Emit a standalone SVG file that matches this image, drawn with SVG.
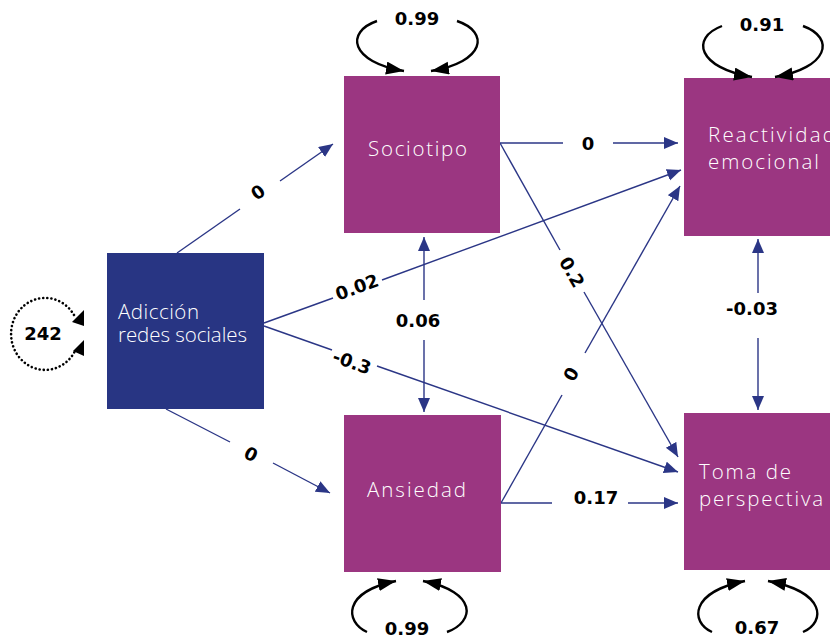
<svg xmlns="http://www.w3.org/2000/svg" width="830" height="639" viewBox="0 0 830 639">
<defs>
<marker id="ab" markerUnits="userSpaceOnUse" markerWidth="16" markerHeight="14" refX="14" refY="6" orient="auto-start-reverse"><path d="M0,0 L14,6 L0,12 z" fill="#2b3686"/></marker>
<marker id="ak" markerUnits="userSpaceOnUse" markerWidth="20" markerHeight="14" refX="18" refY="6.5" orient="auto"><path d="M0,0 L18,6.5 L0,13 z" fill="#000"/></marker>
</defs>
<style>
.n{fill:#9b3681}
.nb{fill:#283583}
.t{font-family:"Open Sans","DejaVu Sans",sans-serif;font-weight:300;font-size:20.5px;fill:#fff}
.e{fill:none;stroke:#2b3686;stroke-width:1.4}
.lp{fill:none;stroke:#000;stroke-width:2.4}
.l{font-family:"DejaVu Sans",sans-serif;font-weight:700;font-size:18px;fill:#000;text-anchor:middle}
</style>
<rect width="830" height="639" fill="#fff"/>
<g id="connectors">
<path class="e" d="M177,253 L240,209"/><path class="e" d="M280,181 L333,144" marker-end="url(#ab)"/>
<path class="e" d="M166,409 L230,442"/><path class="e" d="M273,463 L330,493" marker-end="url(#ab)"/>
<path class="e" d="M264,323 L333,298"/><path class="e" d="M382,280 L681,170" marker-end="url(#ab)"/>
<path class="e" d="M264,326 L332,350"/><path class="e" d="M377,366 L678,472" marker-end="url(#ab)"/>
<path class="e" d="M424,300 L424,237" marker-end="url(#ab)"/><path class="e" d="M424,340 L424,412" marker-end="url(#ab)"/>
<path class="e" d="M500,143 L563,143"/><path class="e" d="M613,143 L678,143" marker-end="url(#ab)"/>
<path class="e" d="M500,143 L560,250"/><path class="e" d="M584,292 L678,457" marker-end="url(#ab)"/>
<path class="e" d="M501,503 L562,395"/><path class="e" d="M585,353 L680,186" marker-end="url(#ab)"/>
<path class="e" d="M501,503 L552,503"/><path class="e" d="M628,503 L678,503" marker-end="url(#ab)"/>
<path class="e" d="M758,293 L758,239" marker-end="url(#ab)"/><path class="e" d="M758,338 L758,410" marker-end="url(#ab)"/>
</g>
<g id="edge-labels">
<text class="l" transform="translate(258,192) rotate(-35)" y="6.5">0</text>
<text class="l" transform="translate(251,454) rotate(27)" y="6.5">0</text>
<text class="l" transform="translate(357,287) rotate(-20)" y="6.5">0.02</text>
<text class="l" transform="translate(352,362) rotate(20)" y="6.5">-0.3</text>
<text class="l" x="418" y="327">0.06</text>
<text class="l" x="588" y="150">0</text>
<text class="l" transform="translate(572,272) rotate(60)" y="6.5">0.2</text>
<text class="l" transform="translate(571,374) rotate(-60)" y="6.5">0</text>
<text class="l" x="596" y="504">0.17</text>
<text class="l" x="752" y="315">-0.03</text>
</g>
<g id="adiccion">
<rect class="nb" x="107" y="253" width="157" height="156"/>
<text class="t" x="118" y="319" textLength="81">Adicción</text>
<text class="t" x="118" y="342" textLength="129">redes sociales</text>
<path d="M74,315 A34,36 0 1 0 75,351" fill="none" stroke="#000" stroke-width="2.6" stroke-dasharray="0.1 4" stroke-linecap="round"/>
<polygon points="72,322 84,310 84,326" fill="#000"/>
<polygon points="73,351 84,340 84,356" fill="#000"/>
<text class="l" x="43" y="340">242</text>
</g>
<g id="sociotipo">
<rect class="n" x="344" y="76" width="156" height="157"/>
<text class="t" x="368" y="156" textLength="99">Sociotipo</text>
<path class="lp" d="M377,21 C345,32 350,62 404,71" marker-end="url(#ak)"/>
<path class="lp" d="M457,21 C490,32 485,62 431,71" marker-end="url(#ak)"/>
<text class="l" x="417" y="25">0.99</text>
</g>
<g id="ansiedad">
<rect class="n" x="344" y="415" width="157" height="157"/>
<text class="t" x="367" y="497" textLength="99">Ansiedad</text>
<path class="lp" d="M367,632 C345,622 342,592 396,581" marker-end="url(#ak)"/>
<path class="lp" d="M447,632 C475,622 478,592 423,581" marker-end="url(#ak)"/>
<text class="l" x="407" y="635">0.99</text>
</g>
<g id="reactividad">
<rect class="n" x="684" y="78" width="150" height="158"/>
<text class="t" x="708" y="142" textLength="127">Reactividad</text>
<text class="t" x="708" y="169" textLength="111">emocional</text>
<path class="lp" d="M722,26 C690,38 698,68 752,77" marker-end="url(#ak)"/>
<path class="lp" d="M803,26 C836,38 828,68 775,77" marker-end="url(#ak)"/>
<text class="l" x="762" y="31">0.91</text>
</g>
<g id="toma">
<rect class="n" x="684" y="413" width="150" height="157"/>
<text class="t" x="699" y="479" textLength="92">Toma de</text>
<text class="t" x="699" y="506" textLength="124">perspectiva</text>
<path class="lp" d="M712,632 C690,622 690,592 745,581" marker-end="url(#ak)"/>
<path class="lp" d="M803,632 C826,622 826,592 768,581" marker-end="url(#ak)"/>
<text class="l" x="757" y="634">0.67</text>
</g>
</svg>
